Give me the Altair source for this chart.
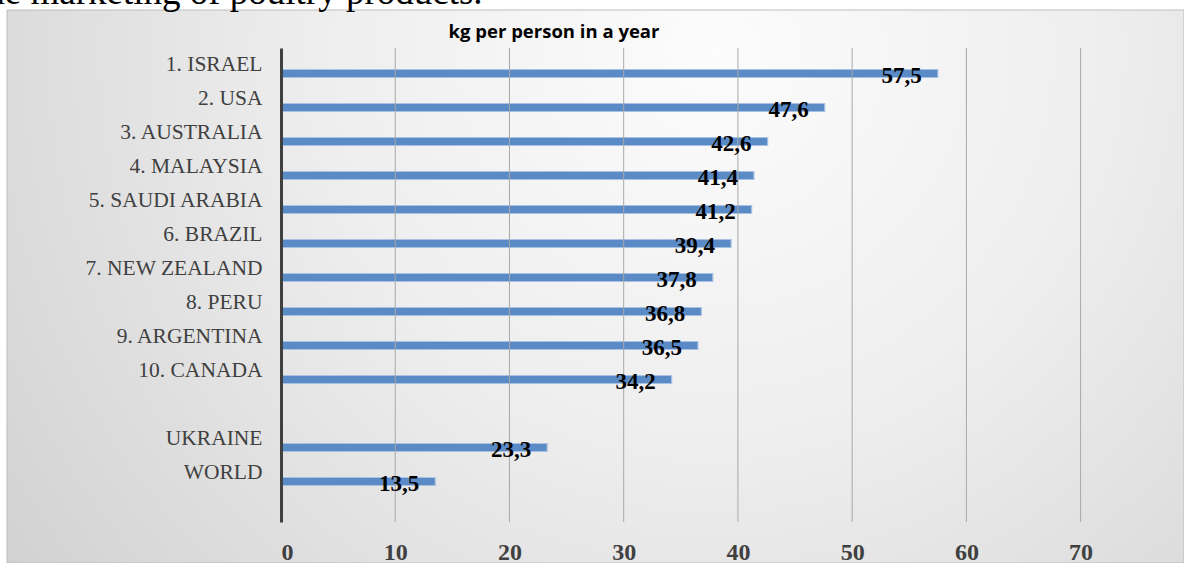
import altair as alt
import pandas as pd

countries = ["1. ISRAEL", "2. USA", "3. AUSTRALIA", "4. MALAYSIA", "5. SAUDI ARABIA",
             "6. BRAZIL", "7. NEW ZEALAND", "8. PERU", "9. ARGENTINA", "10. CANADA",
             "UKRAINE", "WORLD"]
values = [57.5, 47.6, 42.6, 41.4, 41.2, 39.4, 37.8, 36.8, 36.5, 34.2, 23.3, 13.5]
x_ticks = [0, 10, 20, 30, 40, 50, 60, 70]
chart_title = "kg per person in a year"
page_text = "the marketing of poultry products."

y_domain = countries[:10] + [" "] + countries[10:]

df = pd.DataFrame({
    "country": countries,
    "value": values,
    "label": [f"{v:.1f}".replace(".", ",") for v in values],
})
ticks_df = pd.DataFrame({"value": x_ticks[1:]})

W, H = 891, 474
PAD = {"left": 281, "top": 48, "right": 12, "bottom": 41}

x_scale = alt.Scale(domain=[0, 78], nice=False)

y_enc = alt.Y("country:N",
              scale=alt.Scale(domain=y_domain, paddingInner=0.7647, paddingOuter=0.853, align=0.371),
              axis=alt.Axis(title=None, ticks=False, labelFont="Liberation Serif", labelFontSize=21.5,
                            labelColor="#404040", labelPadding=19, labelOffset=-8.5,
                            domainColor="#404040", domainWidth=3, grid=False, zindex=1))
x_enc = alt.X("value:Q", scale=x_scale,
              axis=alt.Axis(title=None, values=x_ticks, ticks=False, domain=False,
                            labelFont="Liberation Serif", labelFontSize=24, labelFontWeight="bold",
                            labelColor="#404040", labelPadding=18, grid=False, zindex=1))

one = pd.DataFrame({"t": [chart_title], "p": [page_text]})

bg = alt.Chart(one).mark_rect(
    fill={"gradient": "radial",
          "x1": 0.6, "y1": 0.3, "r1": 0.0,
          "x2": 0.6, "y2": 0.3, "r2": 0.95,
          "stops": [{"offset": 0.0, "color": "#FCFCFC"},
                    {"offset": 0.35, "color": "#EEEEEE"},
                    {"offset": 1.0, "color": "#C3C3C3"}]},
    stroke="#BDBDBD", strokeWidth=1,
).encode(x=alt.value(-274), x2=alt.value(903), y=alt.value(-38), y2=alt.value(515))

bars = alt.Chart(df).mark_bar(fill="#5B8BC6", stroke="#A9C1E2", strokeWidth=1.2).encode(
    x=x_enc, y=y_enc)

grid = alt.Chart(ticks_df).mark_rule(color="#A8A8A8", strokeWidth=1).encode(
    x=alt.X("value:Q"), y=alt.value(0), y2=alt.value(H))

labels = alt.Chart(df).mark_text(
    align="right", baseline="middle", dx=-16, dy=2,
    font="Liberation Serif", fontSize=23, fontWeight="bold", color="#000000",
).encode(x="value:Q", y=alt.Y("country:N"), text="label:N")

title = alt.Chart(one).mark_text(
    align="center", baseline="alphabetic", font="Open Sans", fontSize=18.5, fontWeight="bold",
    color="#000000",
).encode(x=alt.value(273), y=alt.value(-10), text="t:N")

top_text = alt.Chart(one).mark_text(
    align="left", baseline="alphabetic", font="Liberation Serif", fontSize=37, color="#000000",
).encode(x=alt.value(-305), y=alt.value(-44), text="p:N")

chart = alt.layer(bg, top_text, bars, grid, labels, title).properties(
    width=W, height=H, padding=PAD,
    autosize=alt.AutoSizeParams(type="none"),
    background="#FFFFFF",
).configure_view(stroke=None)

chart.save("out.html", embed_options={"renderer": "svg", "actions": False})
